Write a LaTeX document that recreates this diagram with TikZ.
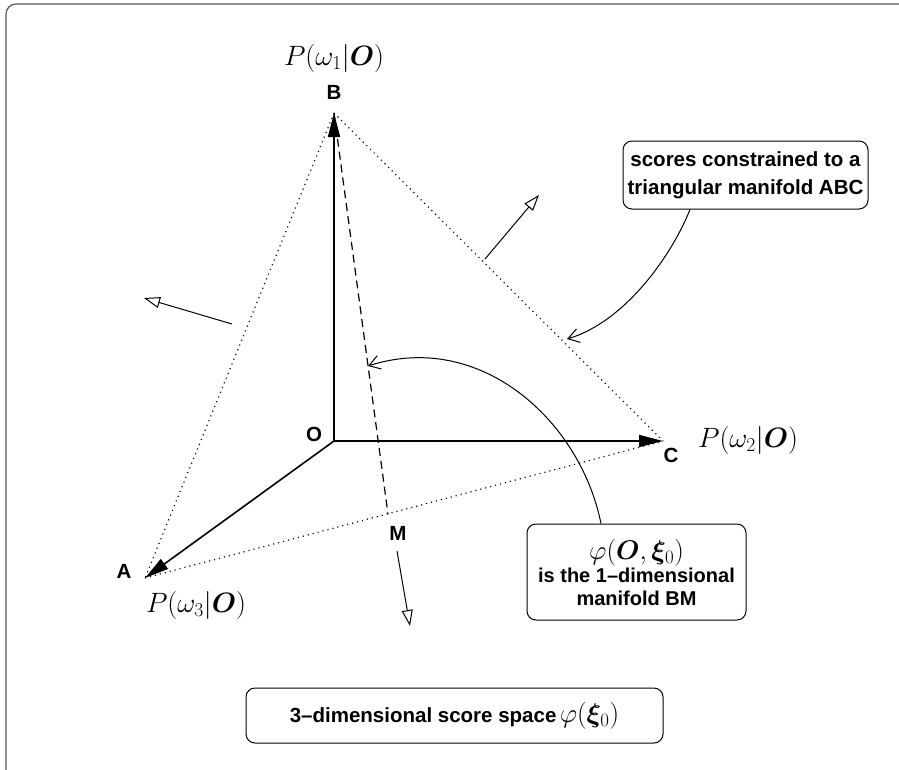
\documentclass[tikz,border=0pt]{standalone}
\usepackage{fix-cm}
\usepackage{amsmath,bm}
\usepackage{fontspec}
\newfontfamily\labfont{Liberation Sans}
\usetikzlibrary{arrows.meta,calc}
\begin{document}
\begin{tikzpicture}[x=1pt,y=-1pt,
  lab/.style={font=\labfont\bfseries\fontsize{20.5}{24}\selectfont, inner sep=0pt},
  mlab/.style={font=\fontsize{28}{32}\selectfont, inner sep=0pt},
  axis/.style={line width=1.6pt, -{Triangle[length=24pt,width=12pt]}},
  dotline/.style={line width=1.2pt, dash pattern=on 1.1pt off 4pt},
  normalarrow/.style={line width=1pt, -{Triangle[open,length=16pt,width=11pt]}},
  callout/.style={line width=1pt, -{Straight Barb[length=11pt,width=14pt]}},
  box/.style={draw, line width=1pt, rounded corners=9pt, align=center,
    font=\labfont\bfseries\fontsize{20.5}{28}\selectfont, inner sep=0pt}
]
\useasboundingbox (0,0) rectangle (899,769);
% outer frame
\draw[line width=1.2pt, draw=black!65, rounded corners=10pt] (6,775) -- (6,4) -- (905,4);

% points
\coordinate (O) at (334,441);
\coordinate (B) at (334,113);
\coordinate (C) at (663,441);
\coordinate (A) at (145,578);
\coordinate (M) at (388,514);

% axes
\draw[axis] (O) -- (B);
\draw[axis] (O) -- (C);
\draw[axis] (O) -- (A);

% triangle
\draw[dotline] (B) -- (A);
\draw[dotline] (B) -- (C);
\draw[dotline] (A) -- (C);
\draw[line width=1.2pt, dash pattern=on 8pt off 5pt] (B) -- (M);

% labels
\node[lab] (lO) at (314,434) {O};
\node[lab] (lB) at (334,92) {B};
\node[lab] (lC) at (671,455) {C};
\node[lab] (lA) at (124,571) {A};
\node[lab] (lM) at (398,533) {M};
\node[mlab] (p1) at (334,58) {$P(\omega_1|\boldsymbol{O})$};
\node[mlab] (p2) at (748,440) {$P(\omega_2|\boldsymbol{O})$};
\node[mlab] (p3) at (196,605) {$P(\omega_3|\boldsymbol{O})$};

% normal arrows
\coordinate (n1s) at (232,324);
\coordinate (n1e) at (144,298);
\coordinate (n2s) at (485,259);
\coordinate (n2e) at (539,195);
\coordinate (n3s) at (397,551);
\coordinate (n3e) at (410,626);
\draw[normalarrow] (n1s) -- (n1e);
\draw[normalarrow] (n2s) -- (n2e);
\draw[normalarrow] (n3s) -- (n3e);

% boxes
\node[box, minimum width=245pt, minimum height=68pt] (box1) at (745.5,175)
  {scores constrained to a\\triangular manifold ABC};
\node[box, minimum width=219pt, minimum height=96pt, font=\labfont\bfseries\fontsize{20}{23}\selectfont] (box2) at (636.5,572)
  {{\fontsize{27}{27}\selectfont$\varphi(\boldsymbol{O},\boldsymbol{\xi}_0)$}\\is the 1\textendash dimensional\\manifold BM};
\node[box, minimum width=417pt, minimum height=55pt] (box3) at (454.5,715.5)
  {3\textendash dimensional score space\,{\fontsize{27}{27}\selectfont$\varphi(\boldsymbol{\xi}_0)$}};

% callouts
\coordinate (t1) at (567,339);
\coordinate (t2) at (368,366);
\draw[callout] ([xshift=-55.5pt]box1.south) .. controls (672,255) and (625,322) .. (t1);
\draw[callout] ([xshift=-35.5pt]box2.north) .. controls (580,420) and (480,330) .. (t2);
\end{tikzpicture}
\end{document}
